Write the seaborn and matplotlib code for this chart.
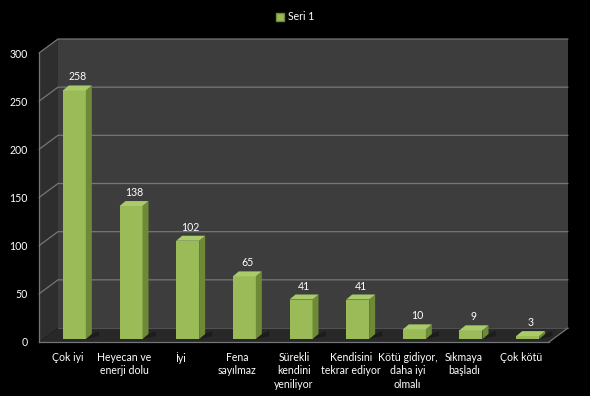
import numpy as np
import matplotlib
matplotlib.use("Agg")
import matplotlib.pyplot as plt
from matplotlib.patches import Polygon, Patch
import seaborn as sns

# data
categories = ["Çok iyi", "Heyecan ve\nenerji dolu", "İyi", "Fena\nsayılmaz",
              "Sürekli\nkendini\nyeniliyor", "Kendisini\ntekrar ediyor",
              "Kötü gidiyor,\ndaha iyi\nolmalı", "Sıkmaya\nbaşladı", "Çok kötü"]
values = [258, 138, 102, 65, 41, 41, 10, 9, 3]
series_name = "Seri 1"
y_ticks = [0, 50, 100, 150, 200, 250, 300]

sns.set_style("dark")
plt.rcParams["font.family"] = ["Lato", "DejaVu Sans"]

GREEN = "#9bbb59"
SIDE = "#6f8a37"
TOP = "#aacb69"
WALL = "#3d3d3d"
SIDEWALL = "#2e2e2e"
FLOOR = "#282828"
GRID = "#767676"
FS = 7.6

fig = plt.figure(figsize=(5.9, 3.96), dpi=100, facecolor="black")
ax = fig.add_axes([39 / 590, 54 / 396, 510 / 590, 289 / 396])
ax.set_facecolor("none")
ax.set_xlim(-0.5, len(categories) - 0.5)
ax.set_ylim(0, 300)

# depth of the pseudo 3d box, in data units
px_x = len(categories) / 510
px_y = 300 / 289
dx, dy = 19 * px_x, 14 * px_y
x0, x1 = -0.5, len(categories) - 0.5

# back wall, side wall, floor
ax.add_patch(Polygon([(x0 + dx, dy), (x1 + dx, dy), (x1 + dx, 300 + dy), (x0 + dx, 300 + dy)],
                     closed=True, fc=WALL, ec="none", zorder=0, clip_on=False))
ax.add_patch(Polygon([(x0, 0), (x0 + dx, dy), (x0 + dx, 300 + dy), (x0, 300)],
                     closed=True, fc=SIDEWALL, ec="none", zorder=0, clip_on=False))
ax.add_patch(Polygon([(x0, 0), (x1, 0), (x1 + dx, dy), (x0 + dx, dy)],
                     closed=True, fc=FLOOR, ec="none", zorder=0.2, clip_on=False))

# gridlines on walls
for v in y_ticks[1:]:
    ax.plot([x0, x0 + dx, x1 + dx], [v, v + dy, v + dy], color=GRID, lw=0.9,
            zorder=0.5, clip_on=False)
ax.plot([x0 + dx, x1 + dx], [dy, dy], color="#505050", lw=0.8, zorder=0.3, clip_on=False)
ax.plot([x1, x1 + dx], [0, dy], color=GRID, lw=0.9, zorder=0.5, clip_on=False)

# bars
bw = 23 * px_x
sns.barplot(x=categories, y=values, ax=ax, color=GREEN, width=bw, saturation=1,
            edgecolor="none", zorder=2)
shift_x, shift_y = 7 * px_x, 3 * px_y
bdx, bdy = 6 * px_x, 5 * px_y
for p, v in zip(ax.patches[-len(values):], values):
    p.set_x(p.get_x() + shift_x)
    p.set_y(shift_y)
    p.set_clip_on(False)
    left = p.get_x()
    right = left + p.get_width()
    top = shift_y + v
    # shadow on floor
    ax.add_patch(Polygon([(right, shift_y), (right + bdx * 2.2, shift_y + bdy * 0.6),
                          (right + bdx * 2.2, shift_y + bdy * 1.6), (right + bdx, shift_y + bdy)],
                         closed=True, fc="#1c1c1c", ec="none", zorder=1, clip_on=False))
    ax.add_patch(Polygon([(right, shift_y), (right, top), (right + bdx, top + bdy),
                          (right + bdx, shift_y + bdy)],
                         closed=True, fc=SIDE, ec="none", zorder=2, clip_on=False))
    ax.add_patch(Polygon([(left, top), (right, top), (right + bdx, top + bdy),
                          (left + bdx, top + bdy)],
                         closed=True, fc=TOP, ec="none", zorder=2, clip_on=False))
    ax.text(left + (p.get_width() + bdx) / 2, top + bdy + 3 * px_y, str(v),
            ha="center", va="bottom", color="white", fontsize=FS, zorder=3)

# axes styling
for s in ["top", "right"]:
    ax.spines[s].set_visible(False)
for s in ["left", "bottom"]:
    ax.spines[s].set_color(GRID)
    ax.spines[s].set_linewidth(0.9)
    ax.spines[s].set_zorder(0.6)
ax.set_yticks(y_ticks)
ax.set_yticklabels([str(t) for t in y_ticks], color="white", fontsize=FS)
ax.tick_params(axis="y", length=4, color=GRID, pad=4, direction="out")
ax.set_xticks(range(len(categories)))
ax.set_xticklabels(categories, color="white", fontsize=FS, linespacing=1.3)
ax.set_xticks(np.arange(-0.5, len(categories), 1.0), minor=True)
ax.tick_params(axis="x", which="major", length=0, pad=7)
ax.tick_params(axis="x", which="minor", length=4, color=GRID, direction="out")
ax.set_xlabel("")
ax.set_ylabel("")
ax.grid(False)

fig.legend(handles=[Patch(facecolor=GREEN, edgecolor="#6f8a37", label=series_name)],
           loc="upper center", bbox_to_anchor=(0.5, 0.995), frameon=False,
           labelcolor="white", fontsize=FS, handlelength=0.8, handleheight=0.8,
           handletextpad=0.3)

fig.savefig("out.png", dpi=100, facecolor="black")
